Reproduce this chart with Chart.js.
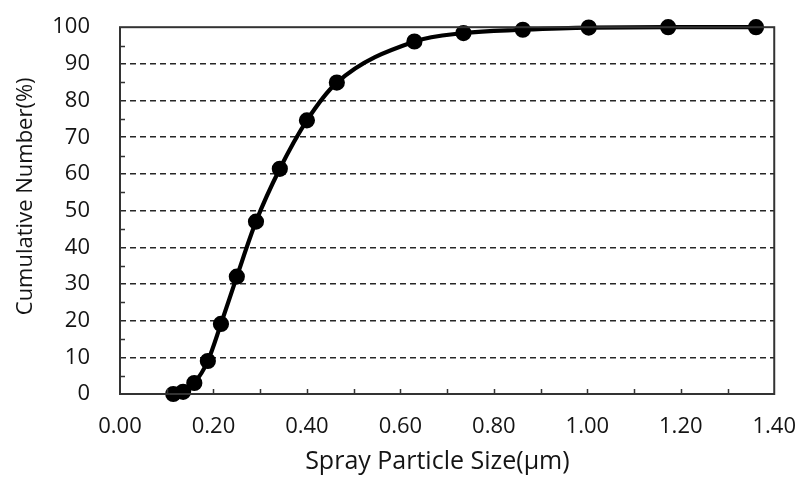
<!DOCTYPE html>
<html>
<head>
<meta charset="utf-8">
<script src="https://cdn.jsdelivr.net/npm/chart.js@4"></script>
<style>
  html, body { margin: 0; padding: 0; background: #fff; }
  #wrap { width: 808px; height: 483px; }
</style>
</head>
<body>
<div id="wrap"><canvas id="grafico" width="808" height="483"></canvas></div>
<script>
// particle sizes (um) and cumulative number (%)
let sizes = [0.114, 0.135, 0.159, 0.188, 0.216, 0.250, 0.291, 0.342, 0.400, 0.464, 0.630, 0.735, 0.862, 1.003, 1.173, 1.361];
let cumulative = [0, 0.6, 3.0, 9.0, 19.1, 32.0, 47.0, 61.4, 74.6, 84.9, 96.1, 98.4, 99.3, 99.9, 100, 100];

// spaces nudge the titles a little off-centre, as in the original
let xTitle = 'Spray Particle Size(\u03bcm)   ';
let yTitle = '     Cumulative Number(%)';

const fonte = '"Open Sans", sans-serif';
const corTexto = '#141414';

// frame and small inside ticks, like the spreadsheet chart
const moldura = {
  id: 'moldura',
  afterDraw(chart) {
    const ctx = chart.ctx;
    const a = chart.chartArea;
    const x = chart.scales.x;
    const y = chart.scales.y;
    ctx.save();
    ctx.strokeStyle = '#333';
    ctx.lineWidth = 1.5;
    ctx.beginPath();
    for (let v = 0.1; v < 1.4; v += 0.1) {
      const px = Math.round(x.getPixelForValue(v)) + 0.5;
      ctx.moveTo(px, a.bottom);
      ctx.lineTo(px, a.bottom - 5);
    }
    for (let v = 5; v < 100; v += 10) {
      const py = Math.round(y.getPixelForValue(v)) + 0.5;
      ctx.moveTo(a.left, py);
      ctx.lineTo(a.left + 5, py);
    }
    ctx.stroke();
    ctx.lineWidth = 2;
    ctx.strokeRect(a.left, a.top, a.right - a.left, a.bottom - a.top);
    ctx.restore();
  }
};

function gerarGrafico() {
  const pontos = sizes.map((s, i) => ({ x: s, y: cumulative[i] }));

  new Chart(document.getElementById('grafico'), {
    type: 'line',
    data: {
      datasets: [{
        data: pontos,
        borderColor: '#000',
        backgroundColor: '#000',
        borderWidth: 4.2,
        pointRadius: 6,
        pointHoverRadius: 6,
        cubicInterpolationMode: 'monotone',
        clip: false
      }]
    },
    options: {
      responsive: false,
      animation: false,
      layout: { padding: { top: 0, right: 0, left: 0, bottom: 6 } },
      plugins: {
        legend: { display: false },
        tooltip: { enabled: false }
      },
      scales: {
        x: {
          type: 'linear',
          min: 0,
          max: 1.4,
          grid: { display: false, drawTicks: true, tickLength: 8, tickColor: 'rgba(0,0,0,0)' },
          border: { display: false },
          ticks: {
            stepSize: 0.2,
            padding: 12,
            color: corTexto,
            font: { family: fonte, size: 22 },
            callback: v => v.toFixed(2)
          },
          title: {
            display: true,
            text: xTitle,
            color: corTexto,
            font: { family: fonte, size: 25 },
            padding: { top: 0, bottom: 0 }
          },
          afterFit: s => { s.height = 83; }
        },
        y: {
          min: 0,
          max: 100,
          grid: {
            drawTicks: true,
            tickLength: 16,
            tickColor: 'rgba(0,0,0,0)',
            color: ctx => (ctx.tick.value === 0 || ctx.tick.value === 100) ? 'rgba(0,0,0,0)' : '#262626',
            lineWidth: 1.5
          },
          border: { display: false, dash: [6, 4] },
          ticks: {
            stepSize: 10,
            padding: 14,
            color: corTexto,
            font: { family: fonte, size: 22 }
          },
          title: {
            display: true,
            text: yTitle,
            color: corTexto,
            font: { family: fonte, size: 22 },
            padding: { top: 13, bottom: 0 }
          },
          afterFit: s => { s.width = 120; }
        }
      }
    },
    plugins: [moldura]
  });
}

gerarGrafico();
</script>
</body>
</html>
